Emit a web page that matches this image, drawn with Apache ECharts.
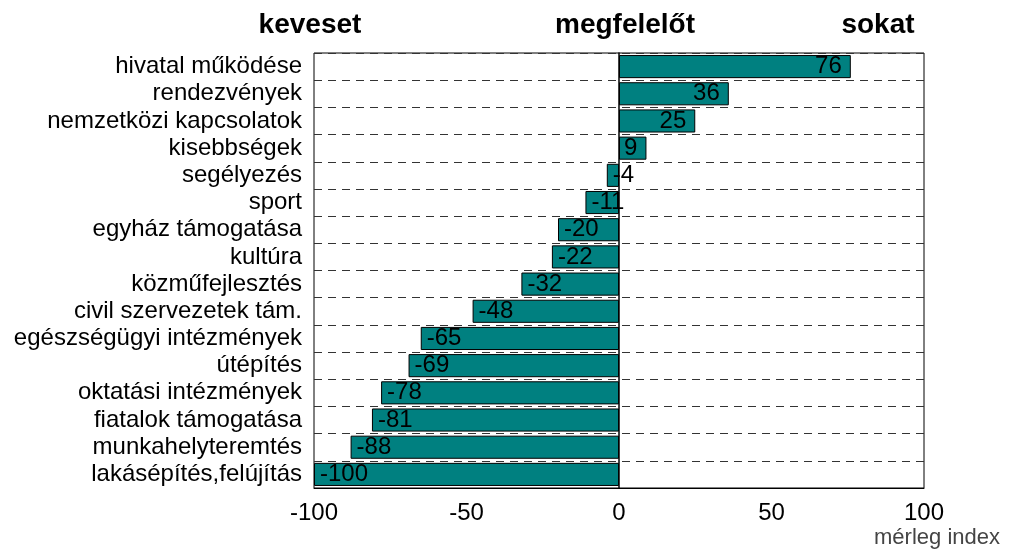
<!DOCTYPE html>
<html>
<head>
<meta charset="utf-8">
<script src="https://cdn.jsdelivr.net/npm/echarts@6/dist/echarts.min.js"></script>
<style>
html,body{margin:0;padding:0;background:#fff;}
#main{width:1012px;height:551px;}
</style>
</head>
<body>
<div id="main"></div>
<script>
var categories = ['hivatal működése','rendezvények','nemzetközi kapcsolatok','kisebbségek','segélyezés','sport','egyház támogatása','kultúra','közműfejlesztés','civil szervezetek tám.','egészségügyi intézmények','útépítés','oktatási intézmények','fiatalok támogatása','munkahelyteremtés','lakásépítés,felújítás'];
var values = [76,36,25,9,-4,-11,-20,-22,-32,-48,-65,-69,-78,-81,-88,-100];
var headers = ['keveset','megfelelőt','sokat'];
var headerX = [310,625,878];

var font = 'Liberation Sans, Arial, sans-serif';
var chart = echarts.init(document.getElementById('main'));

var barData = [];
values.forEach(function(v){
	barData.push({
		value: v,
		label: {
			position: v >= 0 ? 'insideRight' : 'insideLeft',
			distance: v >= 0 ? 9 : 6
		}
	});
});

var graphics = [];
headers.forEach(function(h, i){
	graphics.push({
		type:'text', x: headerX[i], y: 25,
		style:{ text: h, font: 'bold 28px "Liberation Sans", Arial', fill:'#000', align:'center', verticalAlign:'middle' }
	});
});
graphics.push({
	type:'text', x: 1000, y: 538,
	style:{ text:'mérleg index', font:'22px ' + font, fill:'#444', align:'right', verticalAlign:'middle' }
});

chart.setOption({
	animation: false,
	grid: { left: 314, right: 88, top: 53, bottom: 63, show: true, borderColor: '#000', borderWidth: 1 },
	xAxis: {
		type: 'value', min: -100, max: 100, interval: 50,
		axisLine: { show: true, lineStyle: { color: '#000' } },
		axisTick: { show: false },
		splitLine: { show: false },
		axisLabel: { color: '#000', fontSize: 24, fontFamily: font, margin: 13 }
	},
	yAxis: {
		type: 'category', data: categories, inverse: true,
		axisLine: { show: true, onZero: true, lineStyle: { color: '#000', width: 1.5 } },
		axisTick: { show: false },
		axisLabel: { color: '#000', fontSize: 24, fontFamily: font, margin: 12, interval: 0 },
		splitLine: { show: true, interval: 0, lineStyle: { color: '#333', type: [8, 6] } }
	},
	series: [{
		type: 'bar', data: barData, barCategoryGap: '15%',
		itemStyle: { color: '#008080', borderColor: '#000', borderWidth: 1 },
		label: { show: true, color: '#000', fontSize: 24, fontFamily: font }
	}],
	graphic: graphics
});
</script>
</body>
</html>
